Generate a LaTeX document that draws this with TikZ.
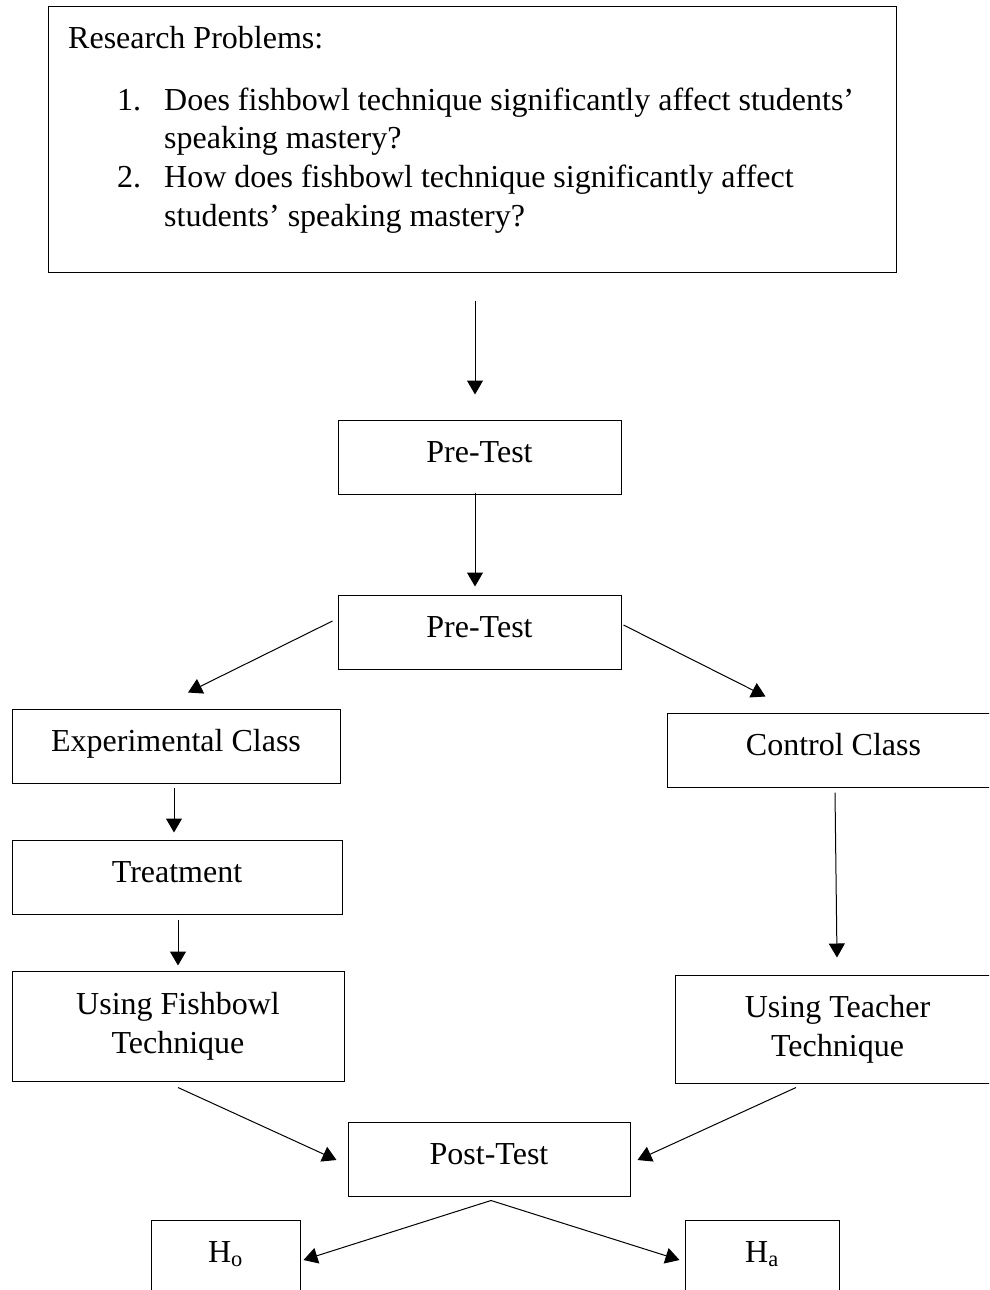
\documentclass[tikz,border=0pt]{standalone}
\usepackage{fontspec}
\setmainfont{Liberation Serif}
\usetikzlibrary{arrows.meta}

\begin{document}
\begin{tikzpicture}[x=1pt,y=-1pt,
  txt/.style={inner sep=0pt,font=\fontsize{32}{39}\selectfont},
  boxbase/.style={draw,line width=1pt,inner sep=0pt,align=center,
    font=\fontsize{32}{39}\selectfont},
  box/.style={boxbase,text height=22pt,text depth=11pt},
  arr/.style={-{Triangle[length=14pt,width=16pt]},line width=1pt}]
 \useasboundingbox (0,0) rectangle (989,1290);
 \clip (0,0) rectangle (989,1290);
 % problem box
 \node[draw,line width=1pt,minimum width=848,minimum height=265] (prob) at (472,139.5) {};
 \node[txt,anchor=base west] (probhead) at (68,48.5) {Research Problems:};
 \node[txt,anchor=base west] (num1) at (117,110.5) {1.};
 \node[txt,anchor=base west] (q1a) at (164,110.5) {Does fishbowl technique significantly affect students’};
 \node[txt,anchor=base west] (q1b) at (164,148.5) {speaking mastery?};
 \node[txt,anchor=base west] (num2) at (117,187.5) {2.};
 \node[txt,anchor=base west] (q2a) at (164,187.5) {How does fishbowl technique significantly affect};
 \node[txt,anchor=base west] (q2b) at (164,226) {students’ speaking mastery?};
 % flow boxes
 \node[box,minimum width=283,minimum height=74] (pre1) at (479.5,457) {Pre-Test};
 \node[box,minimum width=283,minimum height=74] (pre2) at (479.5,632) {Pre-Test};
 \node[box,minimum width=328,minimum height=74] (exp) at (176,746) {Experimental Class};
 \node[box,minimum width=330,minimum height=74] (treat) at (177,877) {Treatment};
 \node[boxbase,minimum width=332,minimum height=110] (fish) at (178,1026) {Using Fishbowl\\Technique};
 \node[box,minimum width=333,minimum height=74] (ctrl) at (833.5,750) {Control Class};
 \node[boxbase,minimum width=325,minimum height=108] (teach) at (837.5,1029) {Using Teacher\\Technique};
 \node[box,minimum width=282,minimum height=74] (post) at (489,1159) {Post-Test};
 \node[box,minimum width=149,minimum height=74] (ho) at (225.5,1257) {H\textsubscript{o}};
 \node[box,minimum width=154,minimum height=74] (ha) at (762,1257) {H\textsubscript{a}};
 % connectors
 \draw[arr] ([shift={(3,28)}]prob.south) -- ([shift={(-4.5,-25)}]pre1.north);
 \draw[arr] ([shift={(-4.5,-2)}]pre1.south) -- ([shift={(-4.5,-8)}]pre2.north);
 \draw[arr] ([shift={(-5,-11)}]pre2.west) -- ([shift={(12,-16)}]exp.north);
 \draw[arr] ([shift={(2,-7)}]pre2.east) -- ([shift={(-68,-16)}]ctrl.north);
 \draw[arr] ([shift={(-2,4)}]exp.south) -- ([shift={(-3,-7)}]treat.north);
 \draw[arr] ([shift={(1,5)}]treat.south) -- ([shift={(0,-5)}]fish.north);
 \draw[arr] ([shift={(1.5,5)}]ctrl.south) -- ([shift={(-0.5,-17)}]teach.north);
 \draw[arr] ([shift={(0,6)}]fish.south) -- ([shift={(-11,1)}]post.west);
 \draw[arr] ([shift={(-41.5,4)}]teach.south) -- ([shift={(7,1)}]post.east);
 \draw[arr] ([shift={(2,4)}]post.south) -- ([shift={(3,3)}]ho.east);
 \draw[arr] ([shift={(2,4)}]post.south) -- ([shift={(-5,3)}]ha.west);
\end{tikzpicture}
\end{document}
